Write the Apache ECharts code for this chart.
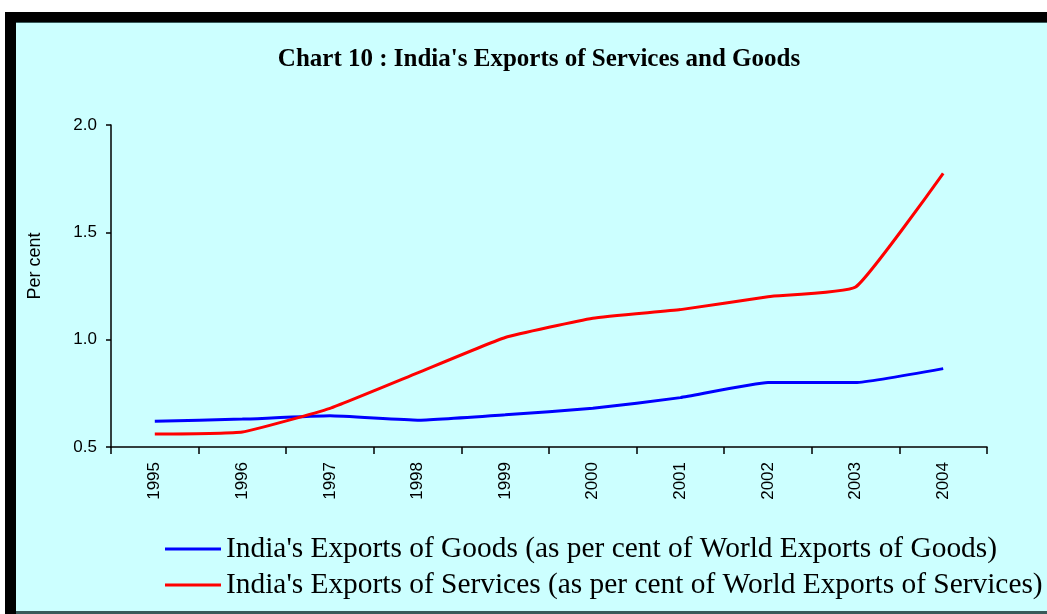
<!DOCTYPE html>
<html>
<head>
<meta charset="utf-8">
<script src="https://cdn.jsdelivr.net/npm/echarts@6/dist/echarts.min.js"></script>
<style>
html,body{margin:0;padding:0;background:#fff;}
#chart{width:1047px;height:614px;}
</style>
</head>
<body>
<div id="chart"></div>
<script>
const titleText = "Chart 10 : India's Exports of Services and Goods";
const years = ['1995','1996','1997','1998','1999','2000','2001','2002','2003','2004'];
const goodsName = "India's Exports of Goods (as per cent of World Exports of Goods)";
const servicesName = "India's Exports of Services (as per cent of World Exports of Services)";
const goods = [0.62, 0.63, 0.645, 0.625, 0.65, 0.68, 0.73, 0.80, 0.80, 0.865];
const services = [0.56, 0.57, 0.68, 0.845, 1.01, 1.10, 1.14, 1.20, 1.245, 1.775];
const yTicks = {min: 0.5, max: 2.0, interval: 0.5};

const chart = echarts.init(document.getElementById('chart'), null, {renderer: 'canvas'});
chart.setOption({
  backgroundColor: '#ffffff',
  animation: false,
  graphic: [
    {type: 'rect', z: -10, silent: true, shape: {x: 5, y: 12, width: 1042, height: 602}, style: {fill: '#000000'}},
    {type: 'rect', z: -9, silent: true, shape: {x: 16, y: 22, width: 1031, height: 592}, style: {fill: '#3a5a5a'}},
    {type: 'rect', z: -8, silent: true, shape: {x: 16, y: 23, width: 1031, height: 588}, style: {fill: '#CCFFFF'}}
  ],
  title: {
    text: titleText,
    left: 534,
    top: 42,
    textAlign: 'center',
    textStyle: {fontFamily: 'Liberation Serif', fontWeight: 'bold', fontSize: 25, color: '#000'}
  },
  legend: {
    orient: 'vertical',
    left: 160,
    top: 526,
    itemGap: 0,
    itemWidth: 56,
    itemHeight: 3,
    icon: 'rect',
    data: [goodsName, servicesName],
    textStyle: {fontFamily: 'Liberation Serif', fontSize: 29.4, color: '#000', lineHeight: 36}
  },
  grid: {left: 111, right: 60, top: 125, bottom: 167, containLabel: false},
  xAxis: {
    type: 'category',
    data: years,
    boundaryGap: true,
    axisLine: {lineStyle: {color: '#000', width: 1.5}},
    axisTick: {show: true, length: 7, alignWithLabel: false, lineStyle: {color: '#000', width: 1.5}},
    axisLabel: {rotate: 90, margin: 15, fontFamily: 'Liberation Sans', fontSize: 17, color: '#000'},
    splitLine: {show: false}
  },
  yAxis: {
    type: 'value',
    min: yTicks.min,
    max: yTicks.max,
    interval: yTicks.interval,
    name: 'Per cent',
    nameLocation: 'middle',
    nameRotate: 90,
    nameGap: 67,
    nameTextStyle: {fontFamily: 'Liberation Sans', fontSize: 18, color: '#000', padding: [0, 0, 0, 40]},
    axisLine: {show: true, lineStyle: {color: '#000', width: 1.5}},
    axisTick: {show: true, length: 5, inside: false, lineStyle: {color: '#000', width: 1.5}},
    axisLabel: {margin: 14, fontFamily: 'Liberation Sans', fontSize: 17, color: '#000', formatter: v => v.toFixed(1)},
    splitLine: {show: false}
  },
  series: [
    {name: goodsName, type: 'line', data: goods, smooth: 0.12, showSymbol: false, symbol: 'none',
     lineStyle: {color: '#0000FF', width: 3}, itemStyle: {color: '#0000FF'}},
    {name: servicesName, type: 'line', data: services, smooth: 0.12, showSymbol: false, symbol: 'none',
     lineStyle: {color: '#FF0000', width: 3}, itemStyle: {color: '#FF0000'}}
  ]
});
</script>
</body>
</html>
